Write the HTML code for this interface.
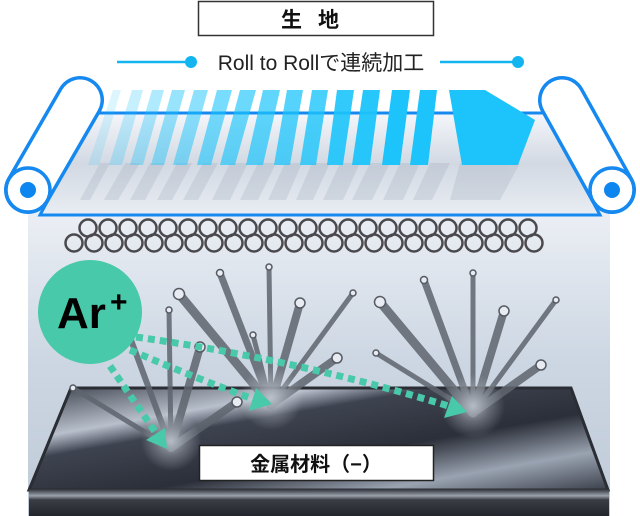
<!DOCTYPE html>
<html><head><meta charset="utf-8"><style>
html,body{margin:0;padding:0;background:#fff}
svg{display:block}
text{font-family:"Liberation Sans","Noto Sans CJK JP",sans-serif}
</style></head><body>
<svg width="640" height="516" viewBox="0 0 640 516" xmlns="http://www.w3.org/2000/svg">
<defs>
<linearGradient id="bg" x1="0" y1="0" x2="0" y2="1">
<stop offset="0" stop-color="#eef1f6"/><stop offset="0.5" stop-color="#cdd7e3"/><stop offset="1" stop-color="#bfcad8"/></linearGradient>
<linearGradient id="film" x1="0" y1="0" x2="0" y2="1">
<stop offset="0" stop-color="#f4f6fa"/><stop offset="0.5" stop-color="#d2d9e3"/><stop offset="1" stop-color="#e9edf3"/></linearGradient>
<linearGradient id="metal" x1="0" y1="0" x2="1" y2="1">
<stop offset="0" stop-color="#3a3f4a"/><stop offset="0.25" stop-color="#b8c0cc"/><stop offset="0.35" stop-color="#3e4350"/><stop offset="0.6" stop-color="#2b2f39"/><stop offset="0.8" stop-color="#9aa3b1"/><stop offset="1" stop-color="#3a3f4a"/></linearGradient>
<linearGradient id="side" x1="0" y1="0" x2="0" y2="1">
<stop offset="0" stop-color="#2c2f36"/><stop offset="0.25" stop-color="#9ba1aa"/><stop offset="0.4" stop-color="#3a3d44"/><stop offset="1" stop-color="#23262c"/></linearGradient>
<radialGradient id="glow">
<stop offset="0" stop-color="#dfe5ee" stop-opacity="0.7"/><stop offset="0.5" stop-color="#dfe5ee" stop-opacity="0.3"/><stop offset="1" stop-color="#dfe5ee" stop-opacity="0"/></radialGradient>
</defs>
<rect x="28" y="200" width="582" height="316" fill="url(#bg)"/>
<rect x="198.5" y="1.5" width="235" height="34" fill="#fff" stroke="#333" stroke-width="1.5"/>
<text x="318" y="27" font-size="21" font-weight="bold" text-anchor="middle" fill="#111" letter-spacing="16">生地</text>
<line x1="117" y1="62" x2="190" y2="62" stroke="#12b5f0" stroke-width="2.5"/>
<circle cx="191" cy="62" r="6" fill="#12b5f0"/>
<line x1="440" y1="62" x2="518" y2="62" stroke="#12b5f0" stroke-width="2.5"/>
<circle cx="518" cy="62" r="6" fill="#12b5f0"/>
<text x="321" y="70" font-size="21" text-anchor="middle" fill="#222">Roll to Rollで連続加工</text>
<polygon points="95,113 545,113 600,215 40,215" fill="url(#film)" stroke="#1589f0" stroke-width="3"/>
<g fill="#9aa6b6" opacity="0.25">
<polygon points="100,163 110,163 90,200 80,200"/>
<polygon points="125,163 140,163 118,200 104,200"/>
<polygon points="150,163 165,163 145,200 130,200"/>
<polygon points="177,163 192,163 172,200 157,200"/>
<polygon points="203,163 218,163 198,200 183,200"/>
<polygon points="230,163 248,163 230,200 212,200"/>
<polygon points="258,163 276,163 258,200 240,200"/>
<polygon points="285,163 302,163 286,200 268,200"/>
<polygon points="312,163 330,163 313,200 296,200"/>
<polygon points="340,163 360,163 343,200 323,200"/>
<polygon points="370,163 390,163 372,200 352,200"/>
<polygon points="400,163 420,163 403,200 383,200"/>
<polygon points="430,163 450,163 432,200 413,200"/>
<polygon points="460,163 520,163 500,200 450,200"/>
</g>
<g fill="#1cc4fb">
<polygon points="113,90 121,90 99,165 88,165" opacity="0.15"/>
<polygon points="132,90 143,90 122,165 109,165" opacity="0.25"/>
<polygon points="152,90 164,90 143,165 130,165" opacity="0.35"/>
<polygon points="172,90 185,90 164,165 151,165" opacity="0.45"/>
<polygon points="194,90 208,90 187,165 173,165" opacity="0.5"/>
<polygon points="217,90 232,90 211,165 197,165" opacity="0.6"/>
<polygon points="240,90 256,90 235,165 220,165" opacity="0.65"/>
<polygon points="263,90 280,90 263,165 246,165" opacity="0.7"/>
<polygon points="287,90 303,90 290,165 274,165" opacity="0.75"/>
<polygon points="312,90 328,90 316,165 300,165" opacity="0.8"/>
<polygon points="337,90 354,90 343,165 327,165" opacity="0.9"/>
<polygon points="363,90 380,90 370,165 352,165" opacity="0.95"/>
<polygon points="392,90 410,90 400,165 382,165"/>
<polygon points="420,90 437,90 428,165 410,165"/>
<polygon points="449,90 485,90 535,120 518,165 462,165"/>
</g>
<line x1="80" y1="100" x2="28" y2="190" stroke="#1589f0" stroke-width="48" stroke-linecap="round"/>
<line x1="80" y1="100" x2="28" y2="190" stroke="#fff" stroke-width="41" stroke-linecap="round"/>
<circle cx="28" cy="190" r="22" fill="#fff" stroke="#1589f0" stroke-width="3.5"/>
<circle cx="28" cy="190" r="8" fill="#0d86f0"/>
<line x1="562" y1="100" x2="612" y2="190" stroke="#1589f0" stroke-width="48" stroke-linecap="round"/>
<line x1="562" y1="100" x2="612" y2="190" stroke="#fff" stroke-width="41" stroke-linecap="round"/>
<circle cx="612" cy="190" r="22" fill="#fff" stroke="#1589f0" stroke-width="3.5"/>
<circle cx="612" cy="190" r="8" fill="#0d86f0"/>
<g fill="none" stroke="#4a4a4e" stroke-width="2.5">
<circle cx="88" cy="228" r="8.5"/><circle cx="108" cy="228" r="8.5"/><circle cx="128" cy="228" r="8.5"/><circle cx="148" cy="228" r="8.5"/><circle cx="168" cy="228" r="8.5"/><circle cx="188" cy="228" r="8.5"/><circle cx="208" cy="228" r="8.5"/><circle cx="228" cy="228" r="8.5"/><circle cx="248" cy="228" r="8.5"/><circle cx="268" cy="228" r="8.5"/><circle cx="288" cy="228" r="8.5"/><circle cx="308" cy="228" r="8.5"/><circle cx="328" cy="228" r="8.5"/><circle cx="348" cy="228" r="8.5"/><circle cx="368" cy="228" r="8.5"/><circle cx="388" cy="228" r="8.5"/><circle cx="408" cy="228" r="8.5"/><circle cx="428" cy="228" r="8.5"/><circle cx="448" cy="228" r="8.5"/><circle cx="468" cy="228" r="8.5"/><circle cx="488" cy="228" r="8.5"/><circle cx="508" cy="228" r="8.5"/><circle cx="528" cy="228" r="8.5"/>
<circle cx="74" cy="243" r="8.5"/><circle cx="94" cy="243" r="8.5"/><circle cx="114" cy="243" r="8.5"/><circle cx="134" cy="243" r="8.5"/><circle cx="154" cy="243" r="8.5"/><circle cx="174" cy="243" r="8.5"/><circle cx="194" cy="243" r="8.5"/><circle cx="214" cy="243" r="8.5"/><circle cx="234" cy="243" r="8.5"/><circle cx="254" cy="243" r="8.5"/><circle cx="274" cy="243" r="8.5"/><circle cx="294" cy="243" r="8.5"/><circle cx="314" cy="243" r="8.5"/><circle cx="334" cy="243" r="8.5"/><circle cx="354" cy="243" r="8.5"/><circle cx="374" cy="243" r="8.5"/><circle cx="394" cy="243" r="8.5"/><circle cx="414" cy="243" r="8.5"/><circle cx="434" cy="243" r="8.5"/><circle cx="454" cy="243" r="8.5"/><circle cx="474" cy="243" r="8.5"/><circle cx="494" cy="243" r="8.5"/><circle cx="514" cy="243" r="8.5"/><circle cx="534" cy="243" r="8.5"/>
</g>
<polygon points="71,388 571,388 608,490 29,490" fill="url(#metal)" stroke="#2a2d33" stroke-width="3"/>
<rect x="29" y="489" width="580" height="27" fill="url(#side)"/>
<g stroke-linecap="round" stroke="#5f656e" opacity="0.85">
<line x1="271" y1="405" x2="220" y2="273" stroke-width="7"/>
<line x1="271" y1="405" x2="269" y2="267" stroke-width="5"/>
<line x1="271" y1="405" x2="300" y2="303" stroke-width="8"/>
<line x1="271" y1="405" x2="353" y2="293" stroke-width="5"/>
<line x1="271" y1="405" x2="253" y2="335" stroke-width="5"/>
<line x1="271" y1="405" x2="337" y2="358" stroke-width="8"/>
<line x1="271" y1="405" x2="179" y2="294" stroke-width="9"/>
<line x1="473" y1="413" x2="424" y2="280" stroke-width="7"/>
<line x1="473" y1="413" x2="473" y2="273" stroke-width="5"/>
<line x1="473" y1="413" x2="504" y2="311" stroke-width="8"/>
<line x1="473" y1="413" x2="556" y2="300" stroke-width="5"/>
<line x1="473" y1="413" x2="380" y2="302" stroke-width="9"/>
<line x1="473" y1="413" x2="376" y2="353" stroke-width="5"/>
<line x1="473" y1="413" x2="541" y2="365" stroke-width="8"/>
<line x1="171" y1="448" x2="169" y2="310" stroke-width="5"/>
<line x1="171" y1="448" x2="200" y2="347" stroke-width="8"/>
<line x1="171" y1="448" x2="73" y2="388" stroke-width="5"/>
<line x1="171" y1="448" x2="237" y2="402" stroke-width="8"/>
<line x1="171" y1="448" x2="131" y2="340" stroke-width="6"/>
</g>
<circle cx="271" cy="398" r="32" fill="url(#glow)"/>
<circle cx="473" cy="406" r="32" fill="url(#glow)"/>
<circle cx="171" cy="441" r="30" fill="url(#glow)"/>
<g fill="#e8ecf2" stroke="#555a62" stroke-width="1.5">
<circle cx="220" cy="273" r="3.5"/><circle cx="269" cy="267" r="3"/><circle cx="300" cy="303" r="5"/><circle cx="353" cy="293" r="3"/><circle cx="253" cy="335" r="3"/><circle cx="337" cy="358" r="5"/><circle cx="179" cy="294" r="5.5"/>
<circle cx="424" cy="280" r="3.5"/><circle cx="473" cy="273" r="3"/><circle cx="504" cy="311" r="5"/><circle cx="556" cy="300" r="3"/><circle cx="380" cy="302" r="5.5"/><circle cx="376" cy="353" r="3"/><circle cx="541" cy="365" r="5"/>
<circle cx="169" cy="310" r="3"/><circle cx="200" cy="347" r="5"/><circle cx="73" cy="388" r="3"/><circle cx="237" cy="402" r="5"/>
</g>
<circle cx="90" cy="312" r="52" fill="#48c9a9"/>
<text x="57" y="328" font-size="44" font-weight="bold" fill="#000">Ar</text>
<text x="110" y="312" font-size="30" font-weight="bold" fill="#000">+</text>
<g fill="none" stroke="#48c9a9" stroke-width="7" stroke-dasharray="7 5">
<path d="M136,337 Q300,360 455,408"/>
<path d="M130,350 Q200,380 256,400"/>
<path d="M110,366 L158,436"/>
</g>
<g fill="#48c9a9">
<polygon points="467,412 444,418 452,396"/>
<polygon points="272,404 249,411 256,388"/>
<polygon points="167,449 146,440 165,428"/>
</g>
<rect x="199.5" y="445.5" width="234" height="35" fill="#fff" stroke="#222" stroke-width="1.5"/>
<text x="316" y="471" font-size="20" font-weight="bold" text-anchor="middle" fill="#111">金属材料（−）</text>
</svg>
</body></html>
